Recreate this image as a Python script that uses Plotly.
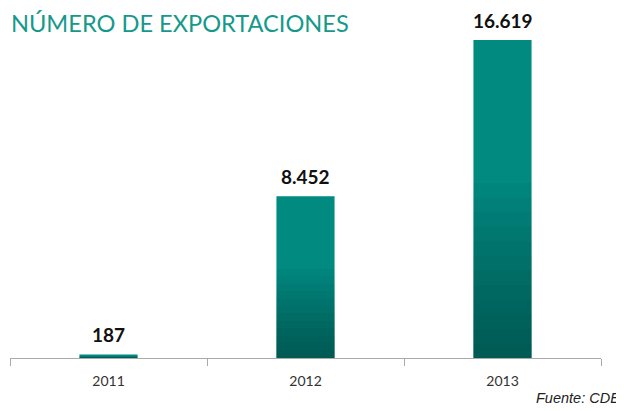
import plotly.graph_objects as go

years = ["2011", "2012", "2013"]
exports = [187, 8452, 16619]
title_text = "NÚMERO DE EXPORTACIONES"
source_text = "Fuente: CDE"

TOP = "#008a80"
DARK = "rgba(0,30,30,0.040)"
N_LAYERS = 12
GRAD_FRAC = 0.55
BAR_W = 0.295

fig = go.Figure()
fig.add_trace(go.Bar(x=years, y=exports, marker=dict(color=TOP, line=dict(width=0)),
                     width=BAR_W, hoverinfo="skip"))
for k in range(1, N_LAYERS + 1):
    frac = GRAD_FRAC * k / N_LAYERS
    fig.add_trace(go.Bar(x=years, y=[v * frac for v in exports],
                         marker=dict(color=DARK, line=dict(width=0)),
                         width=BAR_W, hoverinfo="skip"))

for i, v in enumerate(exports):
    fig.add_annotation(x=i, y=v, text=f"{v:,}".replace(",", "."), showarrow=False,
                       yanchor="bottom", yshift=6,
                       font=dict(family="Lato", size=19, color="#111111", weight="bold"))

fig.add_annotation(xref="paper", yref="paper", x=-0.002, y=1.0, yshift=17,
                   text=title_text, showarrow=False, xanchor="left", yanchor="middle",
                   font=dict(family="Lato", size=23.6, color="#16998b"))
fig.add_annotation(xref="paper", yref="paper", x=1.0355, y=0, yshift=-40,
                   text=f"<i>{source_text}</i>", showarrow=False, xanchor="right", yanchor="middle",
                   font=dict(family="Liberation Sans Narrow, Liberation Sans", size=14.5, color="#222222"))

fig.update_layout(
    width=624, height=411, barmode="overlay", showlegend=False,
    margin=dict(l=2, r=31, t=32, b=61, autoexpand=False),
    paper_bgcolor="white", plot_bgcolor="white",
    xaxis=dict(type="category", range=[-0.5, 2.5], showline=True, linecolor="#aaaaaa", linewidth=1,
               ticks="outside", tickson="boundaries", ticklen=7, tickcolor="#aaaaaa",
               showgrid=False, tickangle=0, automargin=False, ticklabelstandoff=10,
               tickfont=dict(family="Lato", size=14, color="#333333")),
    yaxis=dict(range=[0, 16619], visible=False, showgrid=False, zeroline=False),
)

fig.write_html("out.html")
